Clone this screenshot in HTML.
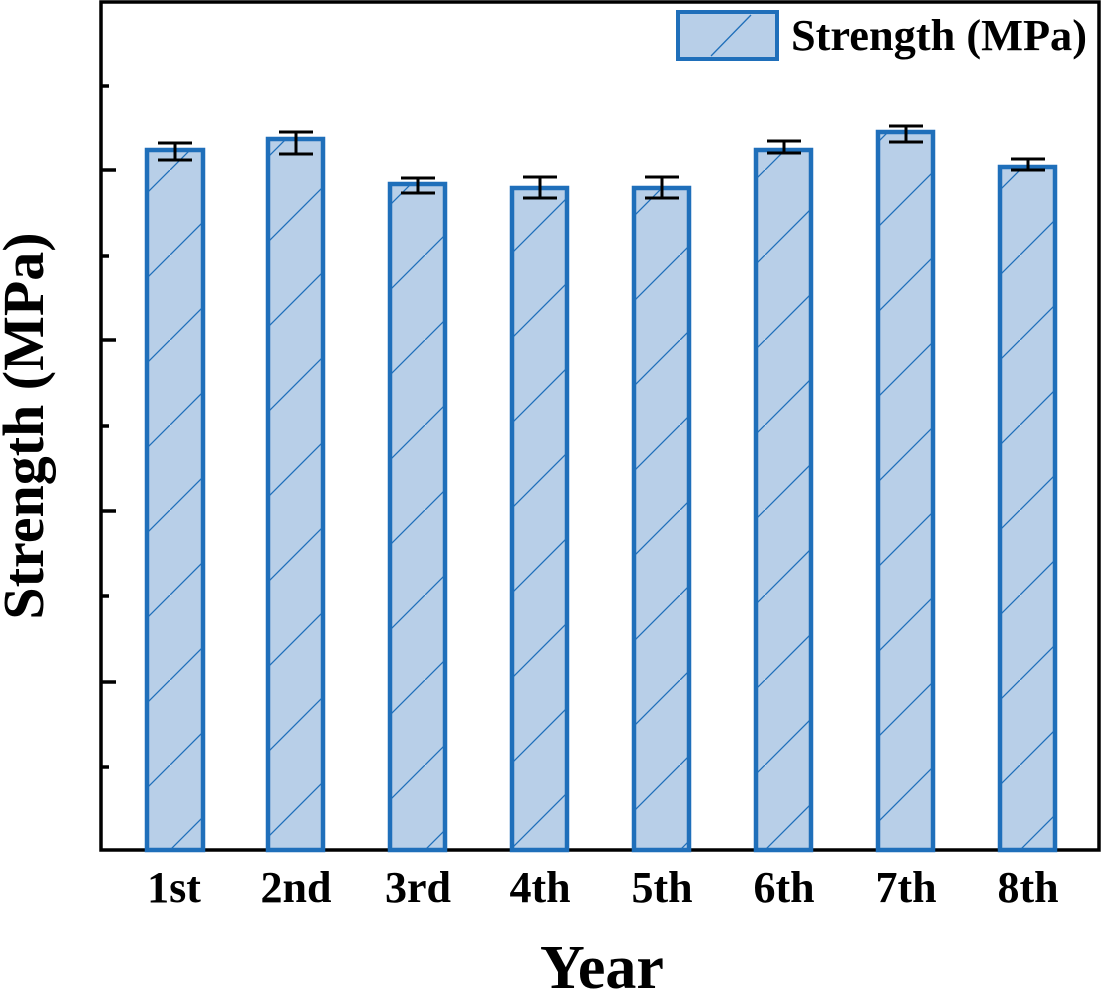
<!DOCTYPE html>
<html><head><style>body{margin:0;background:#fff}svg{display:block}</style></head>
<body>
<svg width="1102" height="993" viewBox="0 0 1102 993" xmlns="http://www.w3.org/2000/svg" font-family="Liberation Serif, serif" font-weight="bold">
<defs>
<pattern id="h" patternUnits="userSpaceOnUse" width="85" height="85" x="0" y="0">
<line x1="-5" y1="90" x2="90" y2="-5" stroke="#1f6fba" stroke-width="1.3"/>
</pattern>
</defs>
<rect x="101" y="2" width="998" height="848" fill="none" stroke="#000" stroke-width="3.5"/>
<g stroke="#000" stroke-width="3.5">
<line x1="101" y1="86" x2="109" y2="86"/><line x1="101" y1="170" x2="116" y2="170"/>
<line x1="101" y1="256" x2="109" y2="256"/><line x1="101" y1="340" x2="116" y2="340"/>
<line x1="101" y1="426" x2="109" y2="426"/><line x1="101" y1="511" x2="116" y2="511"/>
<line x1="101" y1="596" x2="109" y2="596"/><line x1="101" y1="682" x2="116" y2="682"/>
<line x1="101" y1="767" x2="109" y2="767"/>
</g>
<g stroke="#1f6fba" stroke-width="4.5">
<rect x="147" y="150" width="56" height="700" fill="#b8cfe8"/>
<rect x="268" y="139" width="55" height="711" fill="#b8cfe8"/>
<rect x="390" y="184" width="55" height="666" fill="#b8cfe8"/>
<rect x="512" y="188" width="55" height="662" fill="#b8cfe8"/>
<rect x="634" y="188" width="55" height="662" fill="#b8cfe8"/>
<rect x="756" y="150" width="55" height="700" fill="#b8cfe8"/>
<rect x="878" y="132" width="55" height="718" fill="#b8cfe8"/>
<rect x="1000" y="167" width="55" height="683" fill="#b8cfe8"/>
</g>
<g fill="url(#h)">
<rect x="149" y="152" width="52" height="696"/>
<rect x="270" y="141" width="51" height="707"/>
<rect x="392" y="186" width="51" height="662"/>
<rect x="514" y="190" width="51" height="658"/>
<rect x="636" y="190" width="51" height="658"/>
<rect x="758" y="152" width="51" height="696"/>
<rect x="880" y="134" width="51" height="714"/>
<rect x="1002" y="169" width="51" height="679"/>
</g>
<g stroke="#000" stroke-width="3">
<path d="M175 143V160M158 143H192M158 160H192"/>
<path d="M296 132V154M279 132H313M279 154H313"/>
<path d="M418 178V193M401 178H435M401 193H435"/>
<path d="M540 177V198M523 177H557M523 198H557"/>
<path d="M662 177V198M645 177H679M645 198H679"/>
<path d="M784 141V153M767 141H801M767 153H801"/>
<path d="M906 126V142M889 126H923M889 142H923"/>
<path d="M1028 159V170M1011 159H1045M1011 170H1045"/>
</g>
<rect x="678" y="12" width="99" height="47" fill="#b8cfe8" stroke="#1f6fba" stroke-width="4"/>
<line x1="711" y1="56" x2="751" y2="15" stroke="#1f6fba" stroke-width="1.3"/>
<text x="791" y="50" font-size="44" textLength="296" lengthAdjust="spacingAndGlyphs">Strength (MPa)</text>
<g font-size="44" text-anchor="middle">
<text x="174" y="902">1st</text><text x="296" y="902">2nd</text><text x="418" y="902">3rd</text><text x="540" y="902">4th</text>
<text x="662" y="902">5th</text><text x="784" y="902">6th</text><text x="906" y="902">7th</text><text x="1028" y="902">8th</text>
</g>
<text x="602" y="988" font-size="62" text-anchor="middle">Year</text>
<text transform="translate(43,426) rotate(-90)" font-size="58" text-anchor="middle">Strength (MPa)</text>
</svg>
</body></html>
